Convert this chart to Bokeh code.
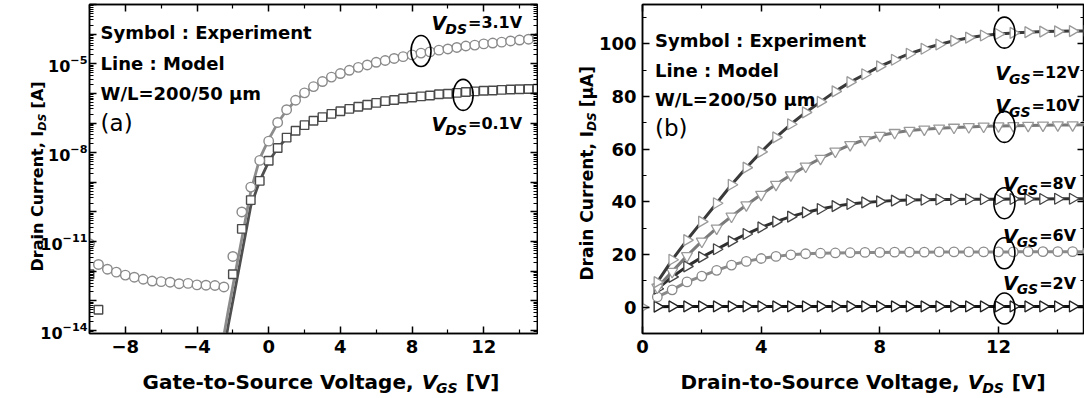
import math
from bokeh.plotting import figure
from bokeh.models import (FixedTicker, LogAxis, LinearAxis, Label, ColumnDataSource)
from bokeh.layouts import row, column
from bokeh.embed import file_html
from bokeh.resources import INLINE

FONT = "DejaVu Sans"
NB = "\u00a0"

# ---------------- Panel (a): transfer curves (log10 of I_DS in A) ----------------
circ_vgs = [-10.0, -9.5, -9.0, -8.5, -8.0, -7.5, -7.0, -6.5, -6.0, -5.5, -5.0, -4.5, -4.0, -3.5, -3.0, -2.5,
            -2.0, -1.5, -1.0, -0.5, 0.0, 0.5, 1.0, 1.5, 2.0, 2.5, 3.0, 3.5, 4.0, 4.5, 5.0, 5.5, 6.0, 6.5,
            7.0, 7.5, 8.0, 8.5, 9.0, 9.5, 10.0, 10.5, 11.0, 11.5, 12.0, 12.5, 13.0, 13.5, 14.0, 14.5, 15.0]
circ_log = [-11.07, -11.77, -11.93, -12.03, -12.13, -12.20, -12.27, -12.33, -12.35, -12.37, -12.42, -12.41,
            -12.46, -12.47, -12.48, -12.53, -11.50, -10.00, -9.16, -8.26, -7.61, -6.98, -6.55, -6.23, -5.98,
            -5.77, -5.60, -5.45, -5.33, -5.22, -5.12, -5.04, -4.95, -4.89, -4.82, -4.76, -4.70, -4.64, -4.60,
            -4.54, -4.50, -4.45, -4.40, -4.37, -4.33, -4.30, -4.27, -4.23, -4.20, -4.17, -4.14]

sq_vgs = [-10.0, -9.5, -2.0, -1.5, -1.0, -0.5, 0.0, 0.5, 1.0, 1.5, 2.0, 2.5, 3.0, 3.5, 4.0, 4.5, 5.0, 5.5,
          6.0, 6.5, 7.0, 7.5, 8.0, 8.5, 9.0, 9.5, 10.0, 10.5, 11.0, 11.5, 12.0, 12.5, 13.0, 13.5, 14.0, 14.5, 15.0]
sq_log = [-12.10, -13.30, -12.10, -10.57, -9.60, -8.95, -8.27, -7.84, -7.49, -7.26, -7.07, -6.92, -6.80,
          -6.69, -6.60, -6.52, -6.45, -6.38, -6.32, -6.26, -6.22, -6.17, -6.14, -6.10, -6.07, -6.03, -6.01,
          -5.98, -5.95, -5.93, -5.91, -5.90, -5.88, -5.87, -5.86, -5.85, -5.84]

m31_vgs = [-2.6, -2.25, -2.0, -1.75, -1.5, -1.25, -1.0, -0.5, 0.0, 0.5, 1.0, 1.5, 2.0, 2.5, 3.0, 3.5, 4.0,
           4.5, 5.0, 5.5, 6.0, 6.5, 7.0, 7.5, 8.0, 8.5, 9.0, 9.5, 10.0, 10.5, 11.0, 11.5, 12.0, 12.5, 13.0,
           13.5, 14.0, 14.5, 15.0]
m31_log = [-14.5, -13.3, -12.5, -11.7, -10.9, -10.1, -9.3, -8.2, -7.55, -7.0, -6.57, -6.24, -5.98, -5.77,
           -5.60, -5.46, -5.34, -5.23, -5.13, -5.04, -4.96, -4.89, -4.82, -4.76, -4.70, -4.65, -4.60, -4.55,
           -4.50, -4.46, -4.42, -4.38, -4.34, -4.30, -4.27, -4.24, -4.21, -4.18, -4.15]
m01_vgs = [-2.45, -2.25, -2.0, -1.75, -1.5, -1.25, -1.0, -0.5, 0.0, 0.5, 1.0, 1.5, 2.0, 2.5, 3.0, 3.5, 4.0,
           4.5, 5.0, 5.5, 6.0, 6.5, 7.0, 7.5, 8.0, 8.5, 9.0, 9.5, 10.0, 10.5, 11.0, 11.5, 12.0, 12.5, 13.0,
           13.5, 14.0, 14.5, 15.0]
m01_log = [-14.5, -13.8, -13.0, -12.2, -11.4, -10.6, -9.8, -8.95, -8.3, -7.85, -7.5, -7.26, -7.07, -6.92,
           -6.80, -6.69, -6.60, -6.52, -6.45, -6.38, -6.32, -6.27, -6.22, -6.18, -6.14, -6.10, -6.07, -6.04,
           -6.01, -5.99, -5.97, -5.95, -5.93, -5.92, -5.91, -5.90, -5.89, -5.88, -5.87]

a_ell_x = [8.5, 10.85]
a_ell_log = [-4.57, -6.05]

a_xticks = [-8, -4, 0, 4, 8, 12]
a_xminor = [-10, -6, -2, 2, 6, 10, 14]
a_decades = list(range(-14, -2))
a_labeled = [-14, -11, -8, -5]

# ---------------- Panel (b): output curves (uA) ----------------
vds = [0.5, 1.0, 1.5, 2.0, 2.5, 3.0, 3.5, 4.0, 4.5, 5.0, 5.5, 6.0, 6.5, 7.0, 7.5, 8.0, 8.5, 9.0, 9.5, 10.0,
       10.5, 11.0, 11.5, 12.0, 12.5, 13.0, 13.5, 14.0, 14.5, 15.0]
i12 = [9.5, 18.0, 25.5, 32.5, 39.5, 46.5, 53.0, 59.0, 64.5, 69.5, 74.0, 78.0, 82.0, 85.5, 88.5, 91.5, 94.0,
       96.3, 98.2, 99.8, 101.2, 102.4, 103.2, 103.8, 104.2, 104.5, 104.7, 104.8, 104.9, 105.0]
i10 = [7.5, 13.5, 19.5, 25.0, 30.0, 34.5, 38.8, 42.8, 46.6, 50.2, 53.5, 56.5, 59.2, 61.7, 63.6, 65.2, 66.3,
       67.1, 67.6, 68.0, 68.3, 68.5, 68.7, 68.8, 68.9, 69.0, 69.1, 69.2, 69.2, 69.3]
i8 = [7.0, 11.5, 15.5, 19.0, 22.0, 25.0, 27.8, 30.3, 32.5, 34.4, 36.0, 37.3, 38.4, 39.2, 39.8, 40.2, 40.5,
      40.7, 40.8, 40.9, 40.9, 41.0, 41.0, 41.0, 41.1, 41.1, 41.1, 41.2, 41.2, 41.2]
i6 = [3.9, 6.6, 9.6, 11.8, 14.0, 16.0, 17.4, 18.5, 19.3, 19.9, 20.3, 20.5, 20.6, 20.7, 20.8, 20.8, 20.9,
      20.9, 20.9, 21.0, 21.0, 21.0, 21.0, 21.0, 21.0, 21.1, 21.1, 21.1, 21.1, 21.1]
i2 = [0.2, 0.3, 0.3, 0.3, 0.3, 0.3, 0.3, 0.3, 0.3, 0.3, 0.3, 0.3, 0.3, 0.3, 0.3, 0.3, 0.3, 0.3, 0.3, 0.3,
      0.3, 0.3, 0.3, 0.3, 0.3, 0.3, 0.3, 0.3, 0.3, 0.3]
vds_origin = [0.0]
i_origin = [0.0]

b_ell_x = [12.2, 12.2, 12.2, 12.2, 12.2]
b_ell_y = [104.3, 68.5, 39.5, 20.5, -0.5]

b_xticks = [0, 4, 8, 12]
b_xminor = [2, 6, 10, 14]
b_yticks = [0, 20, 40, 60, 80, 100]
b_yminor = [-10, 10, 30, 50, 70, 90, 110]

# ---------------- helpers ----------------
DJ = {' ': .348, NB: .348, '(': .457, ')': .457, ',': .380, '-': .415, '.': .380, '/': .365, ':': .400,
      '=': .838, 'A': .774, 'C': .734, 'D': .830, 'E': .683, 'G': .821, 'I': .372, 'L': .637, 'M': .995,
      'S': .720, 'V': .774, 'W': 1.103, '[': .457, ']': .457, 'a': .675, 'b': .716, 'c': .593, 'e': .678,
      'g': .716, 'i': .343, 'l': .343, 'm': 1.042, 'n': .712, 'o': .687, 'p': .716, 'r': .493, 't': .478,
      'u': .712, 'x': .663, 'y': .652, '\u03bc': .721}


def tw(s, size):
    return sum(DJ.get(c, .696) for c in s) * size


def label(p, x, y, text, size, style="bold", dx=0, dy=0, angle=0.0, place=None, color="black"):
    lab = Label(x=x, y=y, x_offset=dx, y_offset=dy, text=text, text_font=FONT,
                text_font_size=f"{size}px", text_font_style=style, text_color=color,
                text_align="left", text_baseline="alphabetic", angle=angle)
    if place is None:
        p.add_layout(lab)
    else:
        p.add_layout(lab, place)


def sub_label(p, x, y, main, sub, rest, size=16, vsize=19, ssize=14):
    label(p, x, y, main, vsize, "bold italic")
    w = tw(main, vsize)
    label(p, x, y, sub, ssize, "bold italic", dx=w - 1, dy=-6)
    w2 = tw(sub, ssize)
    label(p, x, y, rest, size, "bold", dx=w + w2)


def strip_xlabel(s, x, y, pre, var, sub, post, size, ssize):
    label(s, x, y, pre, size, "bold")
    w = tw(pre, size)
    label(s, x, y, var, size, "bold italic", dx=w)
    w += tw(var, size)
    label(s, x, y, sub, ssize, "bold italic", dx=w - 1, dy=-6)
    w += tw(sub, ssize) + tw(" ", size)
    label(s, x, y, post, size, "bold", dx=w)


def yaxis_label(p, x0, y0, pre, sub, post, size, ssize, dx, dy):
    a = math.pi / 2
    label(p, x0, y0, pre + NB * 4 + post, size, "bold", dx=dx, dy=dy, angle=a, place="left")
    w = tw(pre, size)
    label(p, x0, y0, sub, ssize, "bold italic", dx=dx + 5, dy=dy + w, angle=a, place="left")


def style_axis(ax, ticks_for_blank=None, size=18, standoff=6):
    ax.axis_line_color = "black"
    ax.axis_line_width = 1.5
    ax.major_tick_in = 7
    ax.major_tick_out = 0
    ax.minor_tick_in = 4
    ax.minor_tick_out = 0
    ax.major_tick_line_width = 1.5
    ax.minor_tick_line_width = 1.2
    ax.major_tick_line_color = "black"
    ax.minor_tick_line_color = "black"
    ax.major_label_text_font = FONT
    ax.major_label_text_font_size = f"{size}px"
    ax.major_label_text_font_style = "bold"
    ax.major_label_text_color = "black"
    if ticks_for_blank is None:
        ax.major_label_standoff = standoff
    else:
        ax.major_label_standoff = 0
        ax.major_label_overrides = {t: "" for t in ticks_for_blank}


H = 363
BOTTOM = 30
# ================= Figure (a) =================
YA0, YA1 = 10 ** -14.1, 1e-3
pa = figure(width=538, height=H, x_range=(-10, 15), y_range=(YA0, YA1), y_axis_type="log",
            output_backend="svg", toolbar_location=None,
            min_border_left=89, min_border_right=1, min_border_top=4, min_border_bottom=BOTTOM)
pa.grid.visible = False
pa.outline_line_color = "black"
pa.outline_line_width = 1.5
pa.background_fill_color = "white"
pa.border_fill_color = "white"

dec_vals = [float(f"1e{k}") for k in a_decades]
minor_vals = [float(f"{m}e{k}") for k in range(-15, -2) for m in range(2, 10)]
overrides = {float(f"1e{k}"): "" for k in a_decades if k not in a_labeled}

xt_a = FixedTicker(ticks=a_xticks, minor_ticks=a_xminor)
yt_a = FixedTicker(ticks=dec_vals, minor_ticks=minor_vals)
pa.xaxis.ticker = xt_a
pa.yaxis.ticker = yt_a
style_axis(pa.xaxis[0])
style_axis(pa.yaxis[0], size=16, standoff=2)
pa.yaxis.major_label_overrides = overrides
top_a = LinearAxis(ticker=xt_a)
style_axis(top_a, ticks_for_blank=a_xticks)
pa.add_layout(top_a, "above")
right_a = LogAxis(ticker=yt_a)
style_axis(right_a, ticks_for_blank=dec_vals)
pa.add_layout(right_a, "right")

src_m31 = ColumnDataSource(dict(x=m31_vgs, y=[10 ** v for v in m31_log]))
src_m01 = ColumnDataSource(dict(x=m01_vgs, y=[10 ** v for v in m01_log]))
pa.line("x", "y", source=src_m01, line_color="#4f4f4f", line_width=2.8)
pa.line("x", "y", source=src_m31, line_color="#8c8c8c", line_width=2.8)
src_c = ColumnDataSource(dict(x=circ_vgs, y=[10 ** v for v in circ_log]))
src_s = ColumnDataSource(dict(x=sq_vgs, y=[10 ** v for v in sq_log]))
pa.scatter("x", "y", source=src_s, marker="square", size=8.5, line_color="#4a4a4a", line_width=1.4,
           fill_color="white")
pa.scatter("x", "y", source=src_c, marker="circle", size=9.5, line_color="#8a8a8a", line_width=1.4,
           fill_color="white")
pa.ellipse(x=a_ell_x, y=[10 ** v for v in a_ell_log], width=20, height=31, width_units="screen",
           height_units="screen", fill_color=None, line_color="black", line_width=1.6)

label(pa, -9.38, 10 ** -3.96, "Symbol : Experiment", 18)
label(pa, -9.38, 10 ** -5.0, "Line : Model", 18)
label(pa, -9.38, 10 ** -6.0, "W/L=200/50 \u03bcm", 18)
label(pa, -9.38, 10 ** -7.0, "(a)", 23, style="normal")
sub_label(pa, 9.09, 10 ** -3.62, "V", "DS", "=3.1V")
sub_label(pa, 9.09, 10 ** -7.03, "V", "DS", "=0.1V")

yaxis_label(pa, -10, YA0, "Drain Current, I", "DS", "[A]", 16, 11, dx=-52, dy=62)

# ================= Figure (b) =================
pb = figure(width=546, height=H, x_range=(0, 14.9), y_range=(-10, 115),
            output_backend="svg", toolbar_location=None,
            min_border_left=104, min_border_right=0, min_border_top=4, min_border_bottom=BOTTOM)
pb.grid.visible = False
pb.outline_line_color = "black"
pb.outline_line_width = 1.5
pb.background_fill_color = "white"
pb.border_fill_color = "white"
xt_b = FixedTicker(ticks=b_xticks, minor_ticks=b_xminor)
yt_b = FixedTicker(ticks=b_yticks, minor_ticks=b_yminor)
pb.xaxis.ticker = xt_b
pb.yaxis.ticker = yt_b
style_axis(pb.xaxis[0])
style_axis(pb.yaxis[0])
top_b = LinearAxis(ticker=xt_b)
style_axis(top_b, ticks_for_blank=b_xticks)
pb.add_layout(top_b, "above")
right_b = LinearAxis(ticker=yt_b)
style_axis(right_b, ticks_for_blank=b_yticks)
pb.add_layout(right_b, "right")

RIGHT = -math.pi / 2
series = [
    (i2, "#111111", "#222222", "triangle", RIGHT),
    (i6, "#8a8a8a", "#8a8a8a", "circle", 0.0),
    (i8, "#2e2e2e", "#444444", "triangle", RIGHT),
    (i10, "#7a7a7a", "#9a9a9a", "inverted_triangle", 0.0),
    (i12, "#3a3a3a", "#9a9a9a", "triangle", RIGHT),
]
for ys, lc, mc, mk, ang in series:
    src = ColumnDataSource(dict(x=vds, y=ys))
    pb.line("x", "y", source=src, line_color=lc, line_width=3)
    pb.scatter("x", "y", source=src, marker=mk, angle=ang, size=11 if mk != "circle" else 9.5,
               line_color=mc, line_width=1.3, fill_color="white")
pb.scatter(x=vds_origin, y=i_origin, marker="triangle", angle=RIGHT, size=11, line_color="#9a9a9a",
           line_width=1.3, fill_color="white")
pb.ellipse(x=b_ell_x, y=b_ell_y, width=21, height=31, width_units="screen", height_units="screen",
           fill_color=None, line_color="black", line_width=1.6)

label(pb, 0.42, 101.5, "Symbol : Experiment", 18)
label(pb, 0.42, 90.0, "Line : Model", 18)
label(pb, 0.42, 79.0, "W/L=200/50 \u03bcm", 18)
label(pb, 0.42, 68.0, "(b)", 23, style="normal")
sub_label(pb, 11.89, 89.1, "V", "GS", "=12V")
sub_label(pb, 11.89, 76.5, "V", "GS", "=10V")
sub_label(pb, 12.15, 46.9, "V", "GS", "=8V")
sub_label(pb, 12.15, 27.2, "V", "GS", "=6V")
sub_label(pb, 12.15, 9.0, "V", "GS", "=2V")

yaxis_label(pb, 0, -10, "Drain Current, I", "DS", "[\u03bcA]", 17, 12, dx=-56, dy=53)

# ================= strip below both panels for the x-axis titles =================
STRIP_H = 34
strip = figure(width=1084, height=STRIP_H, x_range=(0, 1084), y_range=(0, STRIP_H),
               x_axis_location=None, y_axis_location=None, output_backend="svg",
               toolbar_location=None, min_border=0)
strip.grid.visible = False
strip.outline_line_color = None
strip.background_fill_color = "white"
strip.border_fill_color = "white"
strip_xlabel(strip, 142, 16, "Gate-to-Source Voltage, ", "V", "GS", "[V]", 20, 14)
strip_xlabel(strip, 680, 16, "Drain-to-Source Voltage, ", "V", "DS", "[V]", 20, 14)

layout = column(row(pa, pb), strip)
open("out.html", "w").write(file_html(layout, INLINE))
